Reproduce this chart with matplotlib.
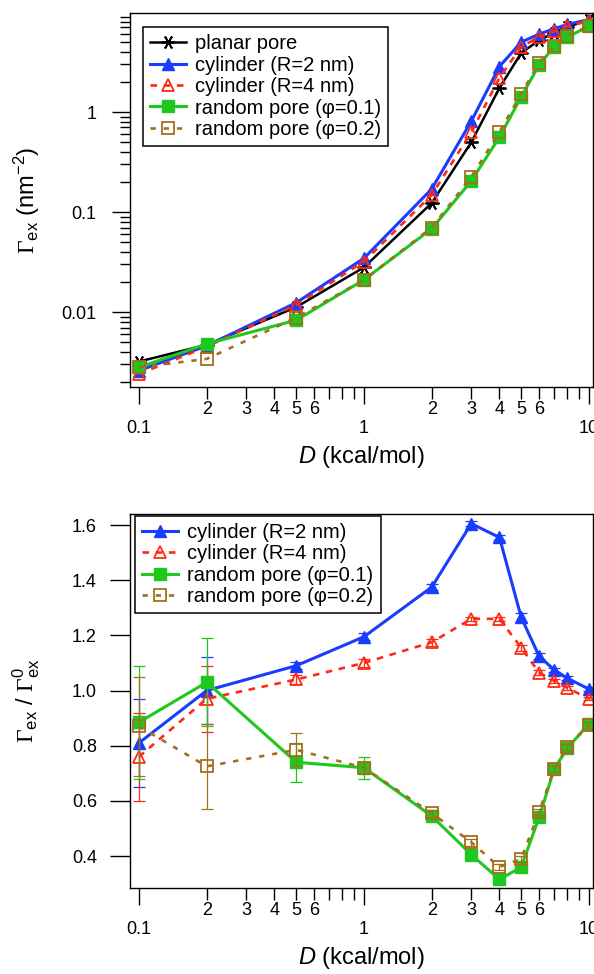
import matplotlib
matplotlib.use('Agg')
import matplotlib.pyplot as plt
from matplotlib.ticker import FixedLocator, FuncFormatter, NullFormatter

plt.rcParams['font.family'] = ['Liberation Sans', 'DejaVu Sans']
plt.rcParams['mathtext.fontset'] = 'custom'
plt.rcParams['mathtext.rm'] = 'Liberation Serif'
plt.rcParams['mathtext.sf'] = 'Liberation Sans'
plt.rcParams['mathtext.it'] = 'Liberation Sans:italic'

D = [0.1, 0.2, 0.5, 1, 2, 3, 4, 5, 6, 7, 8, 10]

# top panel: excess adsorption (nm^-2)
planar = [0.0032, 0.0047, 0.0112, 0.028, 0.123, 0.50, 1.74, 3.9, 5.2, 6.2, 7.1, 8.3]
cyl2 = [0.0026, 0.0046, 0.0124, 0.0345, 0.170, 0.81, 2.85, 5.0, 6.0, 6.8, 7.5, 8.4]
cyl4 = [0.0024, 0.0045, 0.0118, 0.032, 0.148, 0.63, 2.2, 4.5, 5.6, 6.4, 7.2, 8.1]
rand01 = [0.0028, 0.0048, 0.0083, 0.021, 0.068, 0.205, 0.56, 1.42, 2.95, 4.5, 5.6, 7.2]
rand02 = [0.0028, 0.0034, 0.0088, 0.021, 0.070, 0.225, 0.63, 1.53, 3.1, 4.6, 5.8, 7.2]

# bottom panel: ratio to planar pore
r_cyl2 = [0.81, 1.00, 1.09, 1.195, 1.375, 1.605, 1.555, 1.265, 1.125, 1.075, 1.045, 1.005]
r_cyl4 = [0.76, 0.97, 1.04, 1.10, 1.175, 1.26, 1.26, 1.155, 1.065, 1.035, 1.01, 0.97]
r_rand01 = [0.885, 1.03, 0.74, 0.72, 0.545, 0.405, 0.315, 0.36, 0.54, 0.715, 0.79, 0.88]
r_rand02 = [0.87, 0.725, 0.785, 0.72, 0.555, 0.45, 0.36, 0.39, 0.56, 0.715, 0.795, 0.875]
e_cyl2 = [0.16, 0.12, 0.012, 0.012, 0.012, 0.01, 0.01, 0.015, 0.01, 0.008, 0.008, 0.006]
e_cyl4 = [0.16, 0.12, 0.018, 0.015, 0.012, 0.008, 0.008, 0.01, 0.008, 0.008, 0.008, 0.006]
e_rand01 = [0.205, 0.16, 0.07, 0.04, 0.012, 0.01, 0.01, 0.01, 0.01, 0.01, 0.01, 0.01]
e_rand02 = [0.18, 0.155, 0.06, 0.02, 0.012, 0.012, 0.01, 0.01, 0.01, 0.01, 0.01, 0.01]

labels = ['planar pore', 'cylinder (R=2 nm)', 'cylinder (R=4 nm)',
          'random pore (φ=0.1)', 'random pore (φ=0.2)']

BLACK = 'black'
BLUE = '#1a3cff'
RED = '#ff2a14'
GREEN = '#1ec81e'
BROWN = '#a36f1c'

styles = {
    'planar': dict(color=BLACK, marker=(6, 2, 90), ms=10, mew=1.3, lw=1.8, ls='-'),
    'cyl2': dict(color=BLUE, marker='^', ms=9, mfc=BLUE, lw=2.2, ls='-'),
    'cyl4': dict(color=RED, marker='^', ms=9, mfc='none', mew=1.3, lw=1.9, dashes=(2.5, 2.5)),
    'rand01': dict(color=GREEN, marker='s', ms=8.5, mfc=GREEN, lw=2.2, ls='-'),
    'rand02': dict(color=BROWN, marker='s', ms=8.5, mfc='none', mew=1.3, lw=1.9, dashes=(2.0, 3.0)),
}


def minor_fmt(v, pos):
    m = v / 10 ** int(f'{v:e}'.split('e')[1])
    m = round(m)
    if m in (2, 3, 4, 5, 6):
        return str(m)
    return ''


def style_xaxis(ax):
    ax.set_xscale('log')
    ax.set_xlim(0.0912, 10.42)
    ax.xaxis.set_major_locator(FixedLocator([0.1, 1, 10]))
    ax.xaxis.set_major_formatter(FuncFormatter(lambda v, p: '%g' % v))
    ax.xaxis.set_minor_locator(FixedLocator([0.2, 0.3, 0.4, 0.5, 0.6, 0.7, 0.8, 0.9,
                                             2, 3, 4, 5, 6, 7, 8, 9]))
    ax.xaxis.set_minor_formatter(FuncFormatter(minor_fmt))
    ax.tick_params(axis='x', which='major', direction='out', length=12, width=1,
                   pad=12, labelsize=13)
    ax.tick_params(axis='x', which='minor', direction='out', length=8.4, width=1,
                   pad=1.5, labelsize=13)
    ax.set_xlabel(r'$D$ (kcal/mol)', fontsize=17)
    ax.xaxis.set_label_coords(0.5, -0.152)
    for s in ax.spines.values():
        s.set_linewidth(1.0)


def make_legend(ax, anchor):
    leg = ax.legend(loc='upper left', bbox_to_anchor=anchor, borderaxespad=0,
                    fontsize=14.5, handlelength=1.8, handletextpad=0.45,
                    labelspacing=0.12, borderpad=0.35, fancybox=False, framealpha=1)
    leg.get_frame().set_edgecolor('black')
    leg.get_frame().set_linewidth(1.1)
    return leg


fig = plt.figure(figsize=(5.94, 9.74), dpi=100)
W, H = 594.0, 974.0

# top panel
ax1 = fig.add_axes([130 / W, 1 - 387 / H, 463 / W, 374 / H])
ax1.set_yscale('log')
for y, key, lab in zip([planar, cyl2, cyl4, rand01, rand02],
                       ['planar', 'cyl2', 'cyl4', 'rand01', 'rand02'], labels):
    ax1.plot(D, y, label=lab, **styles[key])
style_xaxis(ax1)
ax1.set_ylim(0.00178, 9.77)
ax1.yaxis.set_major_locator(FixedLocator([0.01, 0.1, 1]))
ax1.yaxis.set_major_formatter(FuncFormatter(lambda v, p: '%g' % v))
ax1.yaxis.set_minor_formatter(NullFormatter())
ax1.tick_params(axis='y', which='major', direction='out', length=13, width=1,
                pad=11, labelsize=13)
ax1.tick_params(axis='y', which='minor', direction='out', length=7.2, width=1)
ax1.set_ylabel(r'$\Gamma_{\mathsf{ex}}$ (nm$^{\mathsf{-2}}$)', fontsize=17)
ax1.yaxis.set_label_coords(-0.19, 0.5)
make_legend(ax1, (0.028, 0.962))

# bottom panel
ax2 = fig.add_axes([130 / W, 1 - 888 / H, 463 / W, 374 / H])
for y, e, key, lab in zip([r_cyl2, r_cyl4, r_rand01, r_rand02],
                          [e_cyl2, e_cyl4, e_rand01, e_rand02],
                          ['cyl2', 'cyl4', 'rand01', 'rand02'], labels[1:]):
    st = styles[key]
    ax2.errorbar(D, y, yerr=e, fmt='none', ecolor=st['color'], elinewidth=0.9,
                 capsize=4.5, capthick=0.9)
    ax2.plot(D, y, label=lab, **st)
style_xaxis(ax2)
ax2.set_ylim(0.284, 1.64)
ax2.set_yticks([0.4, 0.6, 0.8, 1.0, 1.2, 1.4, 1.6])
ax2.yaxis.set_major_formatter(FuncFormatter(lambda v, p: '%.1f' % v))
ax2.tick_params(axis='y', which='major', direction='out', length=14.4, width=1,
                pad=9.4, labelsize=13)
ax2.set_ylabel(r'$\Gamma_{\mathsf{ex}}$ / $\Gamma_{\mathsf{ex}}^{\mathsf{0}}$', fontsize=17)
ax2.yaxis.set_label_coords(-0.19, 0.5)
make_legend(ax2, (0.011, 0.995))

plt.savefig('out.png', dpi=100)
